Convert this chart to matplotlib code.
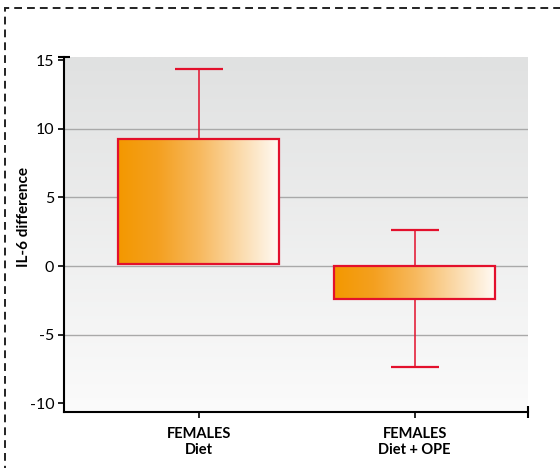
import numpy as np
import matplotlib.pyplot as plt
from matplotlib.colors import LinearSegmentedColormap
from matplotlib.patches import Rectangle

# data
groups = ['FEMALES\nDiet', 'FEMALES\nDiet + OPE']
bar_tops = [9.3, -2.4]
bar_bottoms = [0.15, 0.0]
errors = [5.1, 5.0]
yticks = [-10, -5, 0, 5, 10, 15]

plt.rcParams['font.family'] = ['Lato', 'DejaVu Sans']

fig = plt.figure(figsize=(5.6, 4.68), dpi=100)
ax = fig.add_axes([64 / 560, 56 / 468, 464 / 560, 355 / 468])

ylo, yhi = -10.65, 15.25
xlo, xhi = -0.623, 1.525
ax.set_xlim(xlo, xhi)
ax.set_ylim(ylo, yhi)

# grey background gradient (top darker)
bg = LinearSegmentedColormap.from_list('bg', ['#fbfbfb', '#e0e1e1'])
grad = np.linspace(0, 1, 256).reshape(-1, 1)
ax.imshow(grad, cmap=bg, origin='lower', aspect='auto',
          extent=[xlo, xhi, ylo, yhi], zorder=0)

# gridlines
for v in [-5, 0, 5, 10]:
    ax.axhline(v, color='#a9a9a9', lw=1.0, zorder=1)

red = '#e3102c'
x = np.arange(len(groups))
width = 0.745

# error bars behind bars
eb = ax.errorbar(x, bar_tops, yerr=errors, fmt='none', ecolor=red,
                 elinewidth=1.1, capsize=17, capthick=1.6, zorder=2)
for cap in eb[1]:
    cap.set_color('#e0566a')

orange = LinearSegmentedColormap.from_list(
    'or', ['#f39800', '#f4a020', '#f7b85c', '#fbd9a8', '#fffaf4'])
hgrad = np.linspace(0, 1, 256).reshape(1, -1)
bars = ax.bar(x, np.array(bar_tops) - np.array(bar_bottoms), bottom=bar_bottoms,
              width=width, facecolor='none', edgecolor=red, lw=1.6, zorder=4)
for b in bars:
    x0, y0 = b.get_x(), b.get_y()
    w, h = b.get_width(), b.get_height()
    im = ax.imshow(hgrad, cmap=orange, aspect='auto',
                   extent=[x0, x0 + w, min(y0, y0 + h), max(y0, y0 + h)],
                   zorder=3)
    im.set_clip_path(b)

ax.set_xlim(xlo, xhi)
ax.set_ylim(ylo, yhi)

ax.set_yticks(yticks)
ax.set_yticklabels([str(t) for t in yticks], fontsize=11.5)
ax.set_xticks(x)
ax.set_xticklabels(groups, fontsize=10.5, fontweight='bold')
ax.tick_params(axis='both', direction='out', length=4, width=1.2, colors='black')
ax.tick_params(axis='x', pad=7)
ax.tick_params(axis='y', pad=3)

for s in ['top', 'right']:
    ax.spines[s].set_visible(False)
for s in ['left', 'bottom']:
    ax.spines[s].set_linewidth(1.5)

# end caps on axes
ax.plot([1], [0], marker='|', color='black', markersize=9, mew=1.5,
        transform=ax.transAxes, clip_on=False, zorder=6)
ax.plot([0], [1], marker='_', color='black', markersize=8, mew=1.5,
        transform=ax.transAxes, clip_on=False, zorder=6)

ax.set_ylabel('IL-6 difference', fontsize=11, fontweight='bold')
ax.yaxis.set_label_coords(-0.072, 0.55)

# dashed frame around the figure
frame = Rectangle((5 / 560, -0.1), 1.2, 0.1 + (468 - 8) / 468,
                  transform=fig.transFigure, fill=False, edgecolor='#222222',
                  lw=1.4, linestyle=(0, (4, 2.6)))
fig.patches.append(frame)

fig.savefig('out.png', dpi=100)
